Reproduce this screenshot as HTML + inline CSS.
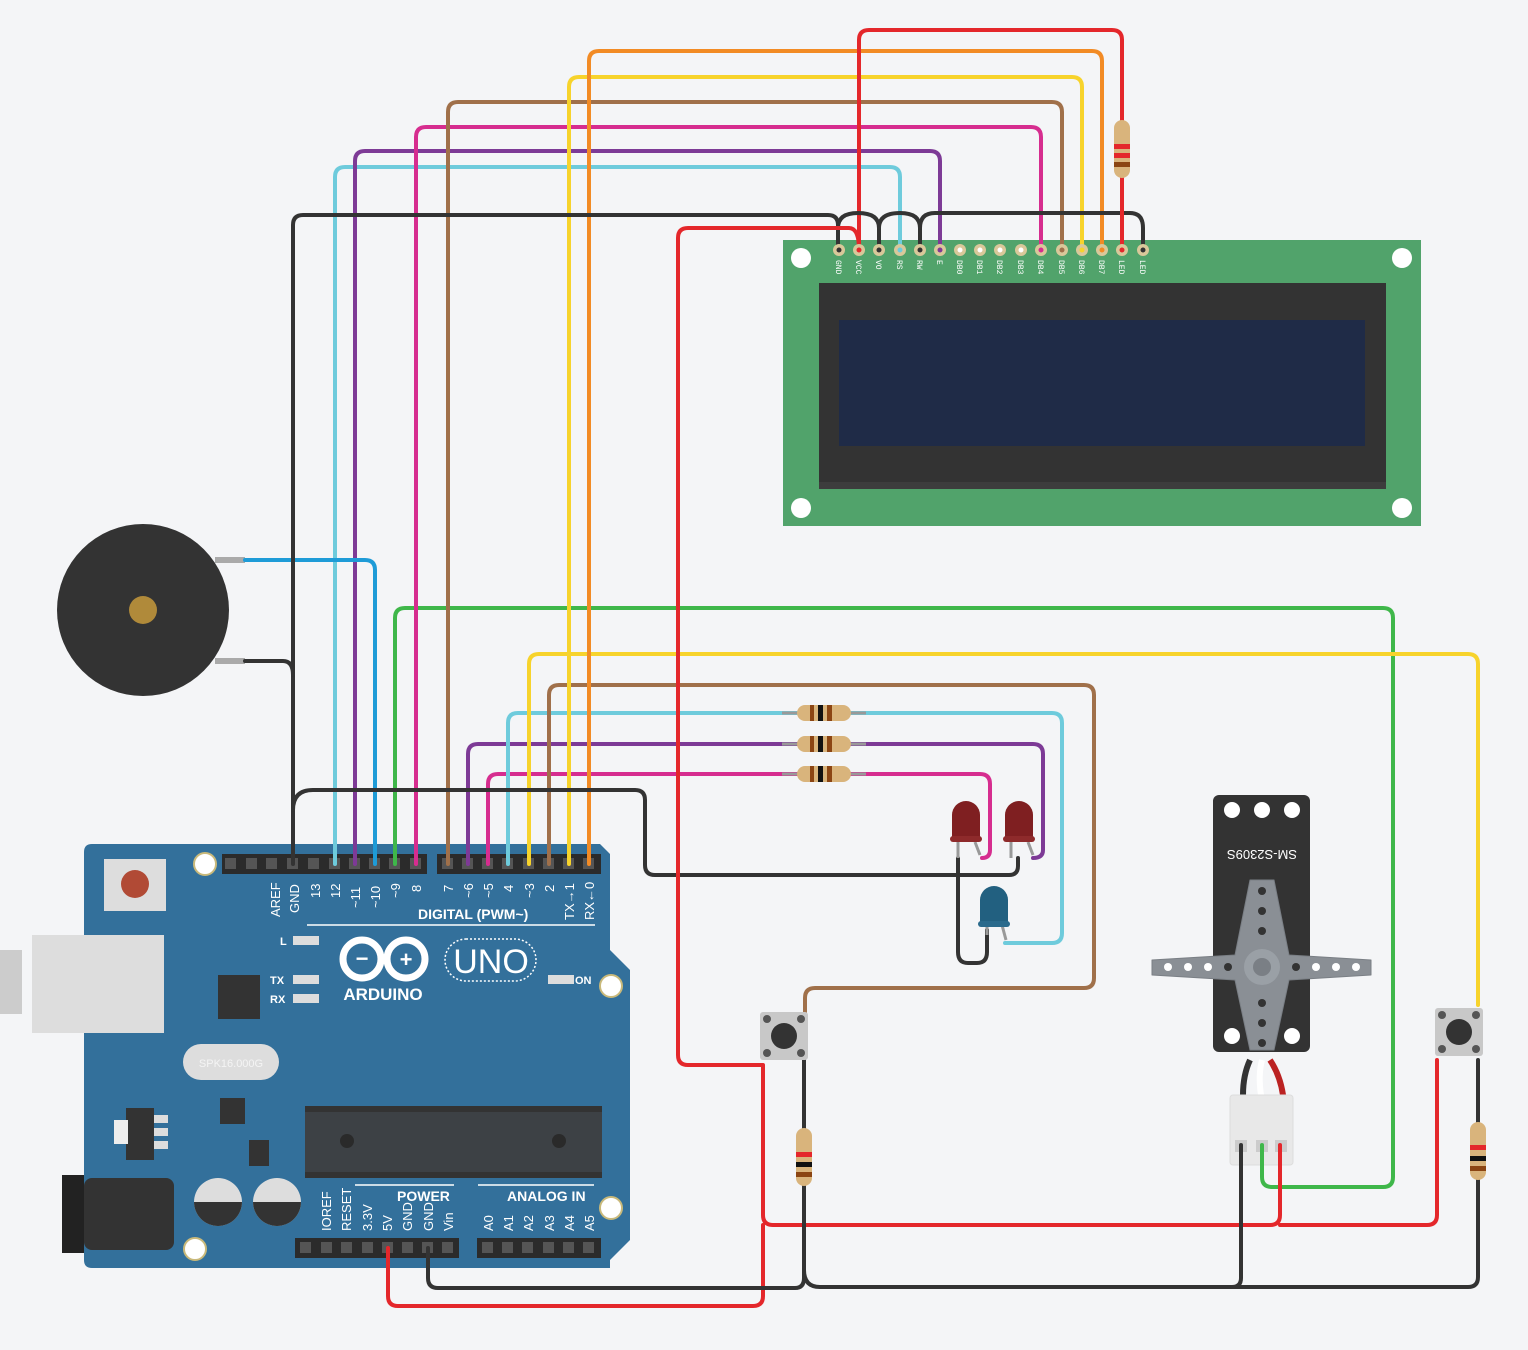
<!DOCTYPE html>
<html><head><meta charset="utf-8"><style>
html,body{margin:0;padding:0;background:#f4f5f7;}
svg{display:block;font-family:"Liberation Sans",sans-serif;}
</style></head><body>
<svg width="1528" height="1350" viewBox="0 0 1528 1350" xmlns="http://www.w3.org/2000/svg">
<rect width="1528" height="1350" fill="#f4f5f7"/>

<!-- LCD -->
<rect x="783" y="240" width="638" height="286" fill="#51a36b"/>
<circle cx="801" cy="258" r="10" fill="#fff"/><circle cx="1402" cy="258" r="10" fill="#fff"/>
<circle cx="801" cy="508" r="10" fill="#fff"/><circle cx="1402" cy="508" r="10" fill="#fff"/>
<rect x="819" y="283" width="567" height="206" fill="#333"/>
<rect x="819" y="482" width="567" height="7" fill="#3d3d3d"/>
<rect x="839" y="320" width="526" height="126" fill="#1f2b47"/>

<!-- Arduino board -->
<path d="M84 852 Q84 844 92 844 L600 844 L610 854 L610 950 L630 970 L630 1240 L610 1260 L610 1268 L92 1268 Q84 1268 84 1260 Z" fill="#33709b"/>
<rect x="0" y="950" width="22" height="64" fill="#ccc"/>
<rect x="32" y="935" width="132" height="98" fill="#ddd"/>
<rect x="104" y="859" width="62" height="52" fill="#ddd"/>
<circle cx="135" cy="884" r="14" fill="#b14a35"/>
<rect x="218" y="975" width="42" height="44" fill="#333"/>
<rect x="183" y="1044" width="96" height="36" rx="18" fill="#ddd"/>
<text x="231" y="1067" font-size="11" fill="#f4f4f4" text-anchor="middle">SPK16.000G</text>
<rect x="220" y="1098" width="25" height="26" fill="#333"/>
<rect x="126" y="1108" width="28" height="52" fill="#333"/><rect x="114" y="1120" width="14" height="24" fill="#eee"/>
<rect x="154" y="1115" width="14" height="8" fill="#ddd"/><rect x="154" y="1128" width="14" height="8" fill="#ddd"/><rect x="154" y="1141" width="14" height="8" fill="#ddd"/>
<rect x="249" y="1140" width="20" height="26" fill="#333"/>
<rect x="62" y="1175" width="22" height="78" fill="#222"/><rect x="84" y="1178" width="90" height="72" rx="8" fill="#333"/>
<circle cx="218" cy="1202" r="24" fill="#ddd"/><path d="M194 1202 A24 24 0 0 0 242 1202 Z" fill="#333"/>
<circle cx="277" cy="1202" r="24" fill="#ddd"/><path d="M253 1202 A24 24 0 0 0 301 1202 Z" fill="#333"/>
<rect x="305" y="1106" width="297" height="72" fill="#333"/>
<rect x="305" y="1112" width="297" height="60" fill="#3d4145"/>
<circle cx="347" cy="1141" r="7" fill="#2a2a2a"/><circle cx="559" cy="1141" r="7" fill="#2a2a2a"/>
<circle cx="205" cy="864" r="11" fill="#fff" stroke="#c9b97a" stroke-width="2"/>
<circle cx="611" cy="986" r="11" fill="#fff" stroke="#c9b97a" stroke-width="2"/>
<circle cx="611" cy="1208" r="11" fill="#fff" stroke="#c9b97a" stroke-width="2"/>
<circle cx="195" cy="1249" r="11" fill="#fff" stroke="#c9b97a" stroke-width="2"/>
<!-- headers -->
<rect x="222" y="854" width="205" height="20" fill="#2b2b2b"/>
<rect x="437" y="854" width="164" height="20" fill="#2b2b2b"/>
<rect x="295" y="1238" width="164" height="20" fill="#2b2b2b"/>
<rect x="477" y="1238" width="124" height="20" fill="#2b2b2b"/>
<g fill="#555">
<rect x="225" y="858" width="11" height="11"/><rect x="246" y="858" width="11" height="11"/><rect x="266" y="858" width="11" height="11"/><rect x="287" y="858" width="11" height="11"/><rect x="308" y="858" width="11" height="11"/><rect x="329" y="858" width="11" height="11"/><rect x="349" y="858" width="11" height="11"/><rect x="369" y="858" width="11" height="11"/><rect x="389" y="858" width="11" height="11"/><rect x="410" y="858" width="11" height="11"/>
<rect x="442" y="858" width="11" height="11"/><rect x="462" y="858" width="11" height="11"/><rect x="482" y="858" width="11" height="11"/><rect x="502" y="858" width="11" height="11"/><rect x="523" y="858" width="11" height="11"/><rect x="543" y="858" width="11" height="11"/><rect x="563" y="858" width="11" height="11"/><rect x="583" y="858" width="11" height="11"/>
<rect x="300" y="1242" width="11" height="11"/><rect x="321" y="1242" width="11" height="11"/><rect x="341" y="1242" width="11" height="11"/><rect x="362" y="1242" width="11" height="11"/><rect x="382" y="1242" width="11" height="11"/><rect x="402" y="1242" width="11" height="11"/><rect x="422" y="1242" width="11" height="11"/><rect x="442" y="1242" width="11" height="11"/>
<rect x="482" y="1242" width="11" height="11"/><rect x="502" y="1242" width="11" height="11"/><rect x="522" y="1242" width="11" height="11"/><rect x="543" y="1242" width="11" height="11"/><rect x="563" y="1242" width="11" height="11"/><rect x="583" y="1242" width="11" height="11"/>
</g>
<!-- logos -->
<g fill="none" stroke="#fff" stroke-width="7"><circle cx="362" cy="959" r="19"/><circle cx="406" cy="959" r="19"/></g>
<text x="362" y="966" font-size="22" fill="#fff" text-anchor="middle" font-weight="bold">−</text>
<text x="406" y="967" font-size="22" fill="#fff" text-anchor="middle" font-weight="bold">+</text>
<text x="383" y="1000" font-size="17" fill="#fff" text-anchor="middle" font-weight="bold">ARDUINO</text>
<rect x="445" y="939" width="91" height="42" rx="21" fill="none" stroke="#fff" stroke-width="1.5" stroke-dasharray="2 2"/>
<text x="491" y="973" font-size="34" fill="#fff" text-anchor="middle">UNO</text>
<g font-size="11" fill="#fff" font-weight="bold">
<text x="280" y="945">L</text><text x="270" y="984">TX</text><text x="270" y="1003">RX</text><text x="575" y="984">ON</text>
</g>
<g fill="#ddd"><rect x="293" y="936" width="26" height="9"/><rect x="293" y="975" width="26" height="9"/><rect x="293" y="994" width="26" height="9"/><rect x="548" y="975" width="26" height="9"/></g>
<text x="418" y="919" font-size="14" fill="#fff" font-weight="bold">DIGITAL (PWM~)</text>
<line x1="307" y1="925" x2="595" y2="925" stroke="#fff" stroke-width="1.5"/>
<text x="397" y="1201" font-size="14" fill="#fff" font-weight="bold">POWER</text>
<text x="507" y="1201" font-size="14" fill="#fff" font-weight="bold">ANALOG IN</text>
<line x1="355" y1="1185" x2="454" y2="1185" stroke="#fff" stroke-width="1.5"/>
<line x1="478" y1="1185" x2="594" y2="1185" stroke="#fff" stroke-width="1.5"/>

<!-- buzzer -->
<rect x="215" y="557" width="30" height="6" fill="#aaa"/><rect x="215" y="658" width="30" height="6" fill="#aaa"/>
<circle cx="143" cy="610" r="86" fill="#333"/>
<circle cx="143" cy="610" r="14" fill="#b08a3a"/>

<!-- servo -->
<rect x="1213" y="795" width="97" height="257" rx="6" fill="#333"/>
<circle cx="1232" cy="810" r="8" fill="#fff"/><circle cx="1262" cy="810" r="8" fill="#fff"/><circle cx="1292" cy="810" r="8" fill="#fff"/>
<circle cx="1232" cy="1036" r="8" fill="#fff"/><circle cx="1292" cy="1036" r="8" fill="#fff"/>
<text x="1262" y="860" font-size="13" fill="#fff" text-anchor="middle" transform="rotate(180 1262 855)">SM-S2309S</text>
<path d="M1152 960 L1235 955 L1250 880 L1274 880 L1289 955 L1371 960 L1371 975 L1289 980 L1274 1050 L1250 1050 L1235 980 L1152 975 Z" fill="#8a8f95" stroke="#7a7f85" stroke-linejoin="round"/>
<circle cx="1262" cy="967" r="18" fill="#9aa0a6"/><circle cx="1262" cy="967" r="9" fill="#7a7f85"/>
<g fill="#fff"><circle cx="1168" cy="967" r="4"/><circle cx="1188" cy="967" r="4"/><circle cx="1208" cy="967" r="4"/><circle cx="1316" cy="967" r="4"/><circle cx="1336" cy="967" r="4"/><circle cx="1356" cy="967" r="4"/></g>
<g fill="#333"><circle cx="1228" cy="967" r="4"/><circle cx="1296" cy="967" r="4"/><circle cx="1262" cy="891" r="4"/><circle cx="1262" cy="911" r="4"/><circle cx="1262" cy="931" r="4"/><circle cx="1262" cy="1003" r="4"/><circle cx="1262" cy="1023" r="4"/><circle cx="1262" cy="1043" r="4"/></g>
<path d="M1250 1060 Q1243 1075 1243 1095" stroke="#333" stroke-width="6" fill="none"/>
<path d="M1262 1060 Q1258 1075 1261 1095" stroke="#fff" stroke-width="6" fill="none"/>
<path d="M1270 1060 Q1280 1075 1283 1095" stroke="#b22" stroke-width="6" fill="none"/>
<rect x="1230" y="1095" width="63" height="70" rx="3" fill="#e8e8e8" stroke="#ddd"/>
<rect x="1235" y="1140" width="12" height="12" fill="#ccc"/><rect x="1256" y="1140" width="12" height="12" fill="#ccc"/><rect x="1275" y="1140" width="12" height="12" fill="#ccc"/>

<!-- wires -->
<g fill="none" stroke-width="4" stroke-linejoin="round" stroke-linecap="round">
<path d="M335 864 V177 Q335 167 345 167 H890 Q900 167 900 177 V250" stroke="#6ecbdc"/>
<path d="M355 864 V161 Q355 151 365 151 H930 Q940 151 940 161 V250" stroke="#7d3a96"/>
<path d="M375 864 V570 Q375 560 365 560 H245" stroke="#1e9bd7"/>
<path d="M395 864 V618 Q395 608 405 608 H1383 Q1393 608 1393 618 V1177 Q1393 1187 1383 1187 H1272 Q1262 1187 1262 1177 V1145" stroke="#3fb74a"/>
<path d="M416 864 V137 Q416 127 426 127 H1031 Q1041 127 1041 137 V250" stroke="#d62d8f"/>
<path d="M448 864 V112 Q448 102 458 102 H1052 Q1062 102 1062 112 V250" stroke="#a0704a"/>
<path d="M468 864 V754 Q468 744 478 744 H800 M850 744 H1033 Q1043 744 1043 754 V850 Q1043 858 1033 858" stroke="#7d3a96"/>
<path d="M488 864 V784 Q488 774 498 774 H800 M850 774 H980 Q990 774 990 784 V850 Q990 858 982 858" stroke="#d62d8f"/>
<path d="M508 864 V723 Q508 713 518 713 H800 M850 713 H1052 Q1062 713 1062 723 V933 Q1062 943 1052 943 H1005" stroke="#6ecbdc"/>
<path d="M529 864 V664 Q529 654 539 654 H1468 Q1478 654 1478 664 V1005" stroke="#f7d32c"/>
<path d="M549 864 V695 Q549 685 559 685 H1084 Q1094 685 1094 695 V978 Q1094 988 1084 988 H815 Q805 988 805 998 V1012" stroke="#a0704a"/>
<path d="M569 864 V87 Q569 77 579 77 H1072 Q1082 77 1082 87 V250" stroke="#f7d32c"/>
<path d="M589 864 V61 Q589 51 599 51 H1092 Q1102 51 1102 61 V250" stroke="#f28b25"/>
<path d="M859 250 V40 Q859 30 869 30 H1112 Q1122 30 1122 40 V250" stroke="#e4272b"/>
<path d="M293 864 V225 Q293 215 303 215 H828 Q838 215 838 225 V250" stroke="#333"/>
<path d="M838 250 V228 Q838 213 858 213 Q879 213 879 228 V250" stroke="#333"/>
<path d="M920 250 V228 Q920 213 935 213 H1130 Q1143 213 1143 228 V250" stroke="#333"/>
<path d="M879 228 Q879 213 900 213 Q920 213 920 228" stroke="#333"/>
<path d="M245 661 H283 Q293 661 293 675" stroke="#333"/>
<path d="M293 810 Q293 790 313 790 H635 Q645 790 645 800 V865 Q645 875 655 875 H958 M958 858 V952 Q958 963 968 963 H977 Q987 963 987 952 V930 M958 875 H1009 Q1018 875 1018 866 V858" stroke="#333"/>
<path d="M859 250 Q859 228 849 228 H688 Q678 228 678 238 V1055 Q678 1065 688 1065 H763 V1215 Q763 1225 773 1225 H1270 Q1280 1225 1280 1215 V1145" stroke="#e4272b"/>
<path d="M1437 1060 V1215 Q1437 1225 1427 1225 H1280" stroke="#e4272b"/>
<path d="M388 1248 V1296 Q388 1306 398 1306 H753 Q763 1306 763 1296 V1225" stroke="#e4272b"/>
<path d="M428 1248 V1278 Q428 1288 438 1288 H795 Q804 1288 804 1278 V1060" stroke="#333"/>
<path d="M804 1270 Q804 1287 820 1287 H1232 Q1241 1287 1241 1278 V1145" stroke="#333"/>
<path d="M1232 1287 H1468 Q1478 1287 1478 1277 V1060" stroke="#333"/>
<path d="M1122 250 V40" stroke="#e4272b"/>
</g>

<!-- horizontal resistors -->
<g>
<rect x="797" y="705" width="54" height="16" rx="8" fill="#d9b47c"/><rect x="810" y="705" width="4" height="16" fill="#8b4513"/><rect x="818" y="705" width="5" height="16" fill="#111"/><rect x="827" y="705" width="5" height="16" fill="#8b4513"/>
<rect x="797" y="736" width="54" height="16" rx="8" fill="#d9b47c"/><rect x="810" y="736" width="4" height="16" fill="#8b4513"/><rect x="818" y="736" width="5" height="16" fill="#111"/><rect x="827" y="736" width="5" height="16" fill="#8b4513"/>
<rect x="797" y="766" width="54" height="16" rx="8" fill="#d9b47c"/><rect x="810" y="766" width="4" height="16" fill="#8b4513"/><rect x="818" y="766" width="5" height="16" fill="#111"/><rect x="827" y="766" width="5" height="16" fill="#8b4513"/>
<line x1="782" y1="713" x2="797" y2="713" stroke="#999" stroke-width="3"/><line x1="851" y1="713" x2="866" y2="713" stroke="#999" stroke-width="3"/>
<line x1="782" y1="744" x2="797" y2="744" stroke="#999" stroke-width="3"/><line x1="851" y1="744" x2="866" y2="744" stroke="#999" stroke-width="3"/>
<line x1="782" y1="774" x2="797" y2="774" stroke="#999" stroke-width="3"/><line x1="851" y1="774" x2="866" y2="774" stroke="#999" stroke-width="3"/>
</g>
<!-- vertical resistors -->
<g>
<rect x="1114" y="120" width="16" height="58" rx="8" fill="#d9b47c"/><rect x="1114" y="144" width="16" height="5" fill="#e4272b"/><rect x="1114" y="153" width="16" height="5" fill="#e4272b"/><rect x="1114" y="162" width="16" height="5" fill="#8b4513"/>
<rect x="796" y="1128" width="16" height="58" rx="8" fill="#d9b47c"/><rect x="796" y="1152" width="16" height="5" fill="#e4272b"/><rect x="796" y="1162" width="16" height="5" fill="#111"/><rect x="796" y="1172" width="16" height="5" fill="#8b4513"/>
<rect x="1470" y="1122" width="16" height="58" rx="8" fill="#d9b47c"/><rect x="1470" y="1145" width="16" height="5" fill="#e4272b"/><rect x="1470" y="1156" width="16" height="5" fill="#111"/><rect x="1470" y="1166" width="16" height="5" fill="#8b4513"/>
</g>

<!-- buttons -->
<rect x="760" y="1012" width="48" height="48" rx="3" fill="#c8c8c8"/><circle cx="784" cy="1036" r="13" fill="#333"/>
<g fill="#555"><circle cx="767" cy="1019" r="4"/><circle cx="801" cy="1019" r="4"/><circle cx="767" cy="1053" r="4"/><circle cx="801" cy="1053" r="4"/></g>
<rect x="1435" y="1008" width="48" height="48" rx="3" fill="#c8c8c8"/><circle cx="1459" cy="1032" r="13" fill="#333"/>
<g fill="#555"><circle cx="1442" cy="1015" r="4"/><circle cx="1476" cy="1015" r="4"/><circle cx="1442" cy="1049" r="4"/><circle cx="1476" cy="1049" r="4"/></g>

<!-- LEDs -->
<g stroke="#999" stroke-width="3" fill="none"><path d="M958 842 V858"/><path d="M975 842 L980 855"/><path d="M1011 842 V858"/><path d="M1028 842 L1033 855"/><path d="M987 925 V935"/><path d="M1002 925 L1006 940"/></g>
<path d="M952 840 V815 A14 14 0 0 1 980 815 V840 Z" fill="#7f1f21"/><rect x="950" y="836" width="32" height="6" rx="3" fill="#8e2a2b"/>
<path d="M1005 840 V815 A14 14 0 0 1 1033 815 V840 Z" fill="#7f1f21"/><rect x="1003" y="836" width="32" height="6" rx="3" fill="#8e2a2b"/>
<path d="M980 925 V900 A14 14 0 0 1 1008 900 V925 Z" fill="#226080"/><rect x="978" y="921" width="32" height="6" rx="3" fill="#2a6a8c"/>

<!-- LCD pins & labels -->
<g>
<circle cx="839" cy="250" r="6" fill="#d9c89a"/><circle cx="839" cy="250" r="2.5" fill="#333"/>
<circle cx="859" cy="250" r="6" fill="#d9c89a"/><circle cx="859" cy="250" r="2.5" fill="#e4272b"/>
<circle cx="879" cy="250" r="6" fill="#d9c89a"/><circle cx="879" cy="250" r="2.5" fill="#333"/>
<circle cx="900" cy="250" r="6" fill="#d9c89a"/><circle cx="900" cy="250" r="2.5" fill="#6ecbdc"/>
<circle cx="920" cy="250" r="6" fill="#d9c89a"/><circle cx="920" cy="250" r="2.5" fill="#333"/>
<circle cx="940" cy="250" r="6" fill="#d9c89a"/><circle cx="940" cy="250" r="2.5" fill="#7d3a96"/>
<circle cx="960" cy="250" r="6" fill="#d9c89a"/><circle cx="960" cy="250" r="2.5" fill="#fff"/>
<circle cx="980" cy="250" r="6" fill="#d9c89a"/><circle cx="980" cy="250" r="2.5" fill="#fff"/>
<circle cx="1000" cy="250" r="6" fill="#d9c89a"/><circle cx="1000" cy="250" r="2.5" fill="#fff"/>
<circle cx="1021" cy="250" r="6" fill="#d9c89a"/><circle cx="1021" cy="250" r="2.5" fill="#fff"/>
<circle cx="1041" cy="250" r="6" fill="#d9c89a"/><circle cx="1041" cy="250" r="2.5" fill="#d62d8f"/>
<circle cx="1062" cy="250" r="6" fill="#d9c89a"/><circle cx="1062" cy="250" r="2.5" fill="#a0704a"/>
<circle cx="1082" cy="250" r="6" fill="#d9c89a"/><circle cx="1082" cy="250" r="2.5" fill="#f7d32c"/>
<circle cx="1102" cy="250" r="6" fill="#d9c89a"/><circle cx="1102" cy="250" r="2.5" fill="#f28b25"/>
<circle cx="1122" cy="250" r="6" fill="#d9c89a"/><circle cx="1122" cy="250" r="2.5" fill="#e4272b"/>
<circle cx="1143" cy="250" r="6" fill="#d9c89a"/><circle cx="1143" cy="250" r="2.5" fill="#333"/>
</g>
<g font-size="8" fill="#fff" font-family="Liberation Mono, monospace">
<text transform="translate(836 260) rotate(90)">GND</text>
<text transform="translate(856 260) rotate(90)">VCC</text>
<text transform="translate(876 260) rotate(90)">VO</text>
<text transform="translate(897 260) rotate(90)">RS</text>
<text transform="translate(917 260) rotate(90)">RW</text>
<text transform="translate(937 260) rotate(90)">E</text>
<text transform="translate(957 260) rotate(90)">DB0</text>
<text transform="translate(977 260) rotate(90)">DB1</text>
<text transform="translate(997 260) rotate(90)">DB2</text>
<text transform="translate(1018 260) rotate(90)">DB3</text>
<text transform="translate(1038 260) rotate(90)">DB4</text>
<text transform="translate(1059 260) rotate(90)">DB5</text>
<text transform="translate(1079 260) rotate(90)">DB6</text>
<text transform="translate(1099 260) rotate(90)">DB7</text>
<text transform="translate(1119 260) rotate(90)">LED</text>
<text transform="translate(1140 260) rotate(90)">LED</text>
</g>

<!-- Arduino pin labels -->
<g font-size="13" fill="#fff">
<text transform="translate(280 917) rotate(-90)">AREF</text>
<text transform="translate(299 913) rotate(-90)">GND</text>
<text transform="translate(320 898) rotate(-90)">13</text>
<text transform="translate(340 898) rotate(-90)">12</text>
<text transform="translate(360 908) rotate(-90)">~11</text>
<text transform="translate(380 908) rotate(-90)">~10</text>
<text transform="translate(400 898) rotate(-90)">~9</text>
<text transform="translate(421 892) rotate(-90)">8</text>
<text transform="translate(453 892) rotate(-90)">7</text>
<text transform="translate(473 898) rotate(-90)">~6</text>
<text transform="translate(493 898) rotate(-90)">~5</text>
<text transform="translate(513 892) rotate(-90)">4</text>
<text transform="translate(534 898) rotate(-90)">~3</text>
<text transform="translate(554 892) rotate(-90)">2</text>
<text transform="translate(574 920) rotate(-90)">TX→1</text>
<text transform="translate(594 920) rotate(-90)">RX←0</text>
<text transform="translate(331 1231) rotate(-90)">IOREF</text>
<text transform="translate(351 1231) rotate(-90)">RESET</text>
<text transform="translate(372 1231) rotate(-90)">3.3V</text>
<text transform="translate(392 1231) rotate(-90)">5V</text>
<text transform="translate(412 1231) rotate(-90)">GND</text>
<text transform="translate(433 1231) rotate(-90)">GND</text>
<text transform="translate(453 1231) rotate(-90)">Vin</text>
<text transform="translate(493 1231) rotate(-90)">A0</text>
<text transform="translate(513 1231) rotate(-90)">A1</text>
<text transform="translate(533 1231) rotate(-90)">A2</text>
<text transform="translate(554 1231) rotate(-90)">A3</text>
<text transform="translate(574 1231) rotate(-90)">A4</text>
<text transform="translate(594 1231) rotate(-90)">A5</text>
</g>
</svg>
</body></html>
